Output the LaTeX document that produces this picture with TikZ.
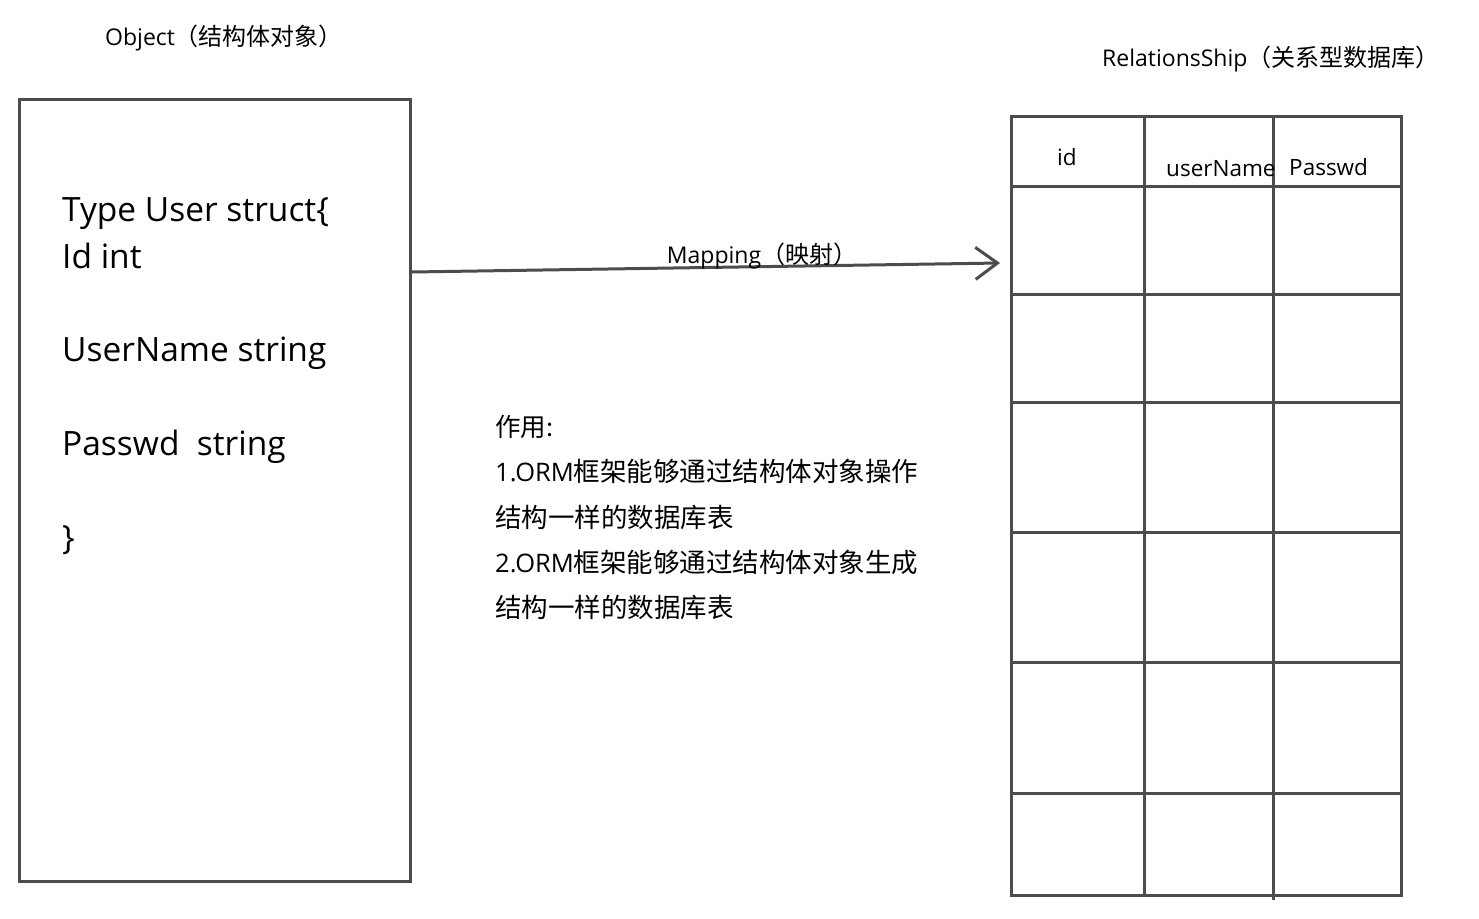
\documentclass[tikz,border=0pt]{standalone}
\usepackage{fontspec}
\setmainfont{Open Sans}
\newfontfamily\cjk{Noto Sans CJK SC}
\usetikzlibrary{arrows.meta}
\begin{document}
\begin{tikzpicture}[x=1pt,y=-1pt,
  ln/.style={draw=black!70,line width=3pt},
  small/.style={font=\fontsize{23}{26}\selectfont,inner sep=0pt},
  code/.style={font=\fontsize{33.5}{38}\selectfont,inner sep=0pt,anchor=base west},
  note/.style={font=\fontsize{25.5}{30}\selectfont,inner sep=0pt,anchor=base west},
  hdr/.style={font=\fontsize{22.5}{26}\selectfont,inner sep=0pt,anchor=base west}]
\useasboundingbox (0,0) rectangle (1479,918);
% titles
\node[small,anchor=base west] (objt) at (105,45) {Object{\cjk\fontsize{24}{26}\selectfont（结构体对象）}};
\node[small,anchor=base west] (relt) at (1102,66) {RelationsShip{\cjk\fontsize{24}{26}\selectfont（关系型数据库）}};
% object box
\node[ln,rectangle,minimum width=391pt,minimum height=782pt,anchor=north west,inner sep=0pt] (obj) at (18,98) {};
\node[code] (l1) at (62,221) {Type User struct\{};
\node[code] (l2) at (62,268) {Id int};
\node[code] (l3) at (62,361) {UserName string};
\node[code] (l4) at (62,455) {Passwd\ \ string};
\node[code] (l5) at (62,549) {\}};
% table
\coordinate (tnw) at (1011,116);
\coordinate (tse) at (1401,895);
\draw[ln] (tnw) rectangle (tse);
\foreach \yy in {186,294,402,532,662,793} \draw[ln] (1011,\yy) -- (1401,\yy);
\draw[ln] (1144,116) -- (1144,895);
\draw[ln] (1273,116) -- (1273,900);
\node[hdr] (hid) at (1057,165) {id};
\node[hdr] (hun) at (1166,176) {userName};
\node[hdr] (hpw) at (1289,175) {Passwd};
% arrow
\coordinate (aend) at (1000,263);
\draw[ln,-{Straight Barb[length=22pt,width=32pt,line width=3pt]}] (obj.east |- 0,272) coordinate (astart) -- (aend);
\node[small,anchor=base] (map) at (762,263) {Mapping{\cjk\fontsize{24}{26}\selectfont（映射）}};
% notes
\node[note] (n0) at (495,436) {\cjk 作用:};
\node[note] (n1) at (495,481) {1.ORM{\cjk\fontsize{26.5}{30}\selectfont 框架能够通过结构体对象操作}};
\node[note] (n2) at (495,527) {\cjk\fontsize{26.5}{30}\selectfont 结构一样的数据库表};
\node[note] (n3) at (495,572) {2.ORM{\cjk\fontsize{26.5}{30}\selectfont 框架能够通过结构体对象生成}};
\node[note] (n4) at (495,617) {\cjk\fontsize{26.5}{30}\selectfont 结构一样的数据库表};
\end{tikzpicture}
\end{document}
